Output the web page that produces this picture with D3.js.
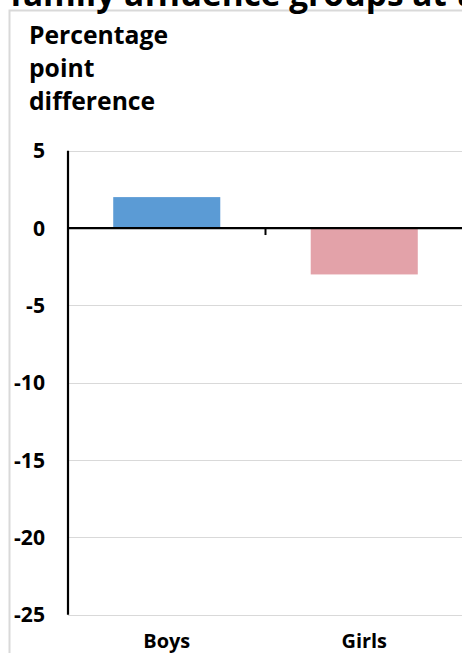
<!DOCTYPE html>
<html>
<head>
<meta charset="utf-8">
<script src="https://cdn.jsdelivr.net/npm/d3@7"></script>
<style>
  html, body { margin: 0; padding: 0; background: #fff; overflow: hidden; }
  svg { display: block; }
  text { font-family: "Open Sans", "Noto Sans", sans-serif; font-weight: 700; fill: #000; }
</style>
</head>
<body>
<svg id="chart" width="462" height="653"></svg>
<script>
// ---- data ----
const categories = ["Boys", "Girls"];
const values = [2, -3];
const barColors = ["#5b9bd5", "#e3a2a9"];
const yTicks = [5, 0, -5, -10, -15, -20, -25];
const yTitleLines = ["Percentage", "point", "difference"];
const chartTitle = "family affluence groups at the";

const W = 462, H = 653;
const svg = d3.select("#chart");

// fit a text element's font size so its width matches target
function fit(sel, target, base) {
  sel.style("font-size", base + "px");
  const w = sel.node().getComputedTextLength();
  const size = base * target / w;
  sel.style("font-size", size + "px");
  return size;
}

// frame (clipped chart area border)
svg.append("rect")
  .attr("x", 9.5).attr("y", 10.5)
  .attr("width", 470).attr("height", 660)
  .attr("fill", "#fff")
  .attr("stroke", "#d9d9d9").attr("stroke-width", 2);

// cut-off title at top
const title = svg.append("text")
  .attr("x", 10).attr("y", 6)
  .text("family affluence groups at");
const ts = fit(title, 437, 28);
title.text(chartTitle);

// scales
const x = d3.scaleBand().domain(categories).range([68, 463])
  .paddingInner(0.458).paddingOuter(0.229);
const y = d3.scaleLinear().domain([-25, 5]).range([614.7, 150.7]);

// gridlines
svg.append("g").selectAll("line").data(yTicks).join("line")
  .attr("x1", 68).attr("x2", W)
  .attr("y1", d => Math.round(y(d)) + 0.5).attr("y2", d => Math.round(y(d)) + 0.5)
  .attr("stroke", "#d9d9d9").attr("stroke-width", 1.2);

// bars
svg.append("g").selectAll("rect").data(values).join("rect")
  .attr("x", (d, i) => x(categories[i]))
  .attr("width", x.bandwidth())
  .attr("y", d => y(Math.max(0, d)))
  .attr("height", d => Math.abs(y(d) - y(0)))
  .attr("fill", (d, i) => barColors[i]);

// zero line (category axis)
svg.append("line")
  .attr("x1", 68).attr("x2", W)
  .attr("y1", y(0)).attr("y2", y(0))
  .attr("stroke", "#000").attr("stroke-width", 2.2);

// category tick marks between categories
const step = x.step();
svg.append("g").selectAll("line").data(categories.slice(1)).join("line")
  .attr("x1", d => x(d) - x.paddingInner() * step / 2)
  .attr("x2", d => x(d) - x.paddingInner() * step / 2)
  .attr("y1", y(0)).attr("y2", y(0) + 7)
  .attr("stroke", "#000").attr("stroke-width", 2);

// y axis line
svg.append("line")
  .attr("x1", 68).attr("x2", 68)
  .attr("y1", y(5)).attr("y2", y(-25))
  .attr("stroke", "#000").attr("stroke-width", 2.2);

// y tick labels
const yl = svg.append("g").selectAll("text").data(yTicks).join("text")
  .attr("x", 45).attr("y", d => y(d))
  .attr("dy", "0.36em")
  .attr("text-anchor", "end")
  .text(d => d);
const probe = yl.filter(d => d === -25);
const ySize = fit(probe, 31, 18);
yl.style("font-size", ySize + "px");

// category labels
const cl = svg.append("g").selectAll("text").data(categories).join("text")
  .attr("x", d => x(d) + x.bandwidth() / 2)
  .attr("y", 648)
  .attr("text-anchor", "middle")
  .text(d => d);
const cSize = fit(cl.filter(d => d === "Boys"), 47, 18);
cl.style("font-size", cSize + "px");

// y axis title
const baselines = [44, 77, 110];
const yt = svg.append("g").selectAll("text").data(yTitleLines).join("text")
  .attr("x", 29)
  .attr("y", (d, i) => baselines[i])
  .text(d => d);
const tSize = fit(yt.filter(d => d === "Percentage"), 139, 22);
yt.style("font-size", tSize + "px");
</script>
</body>
</html>
